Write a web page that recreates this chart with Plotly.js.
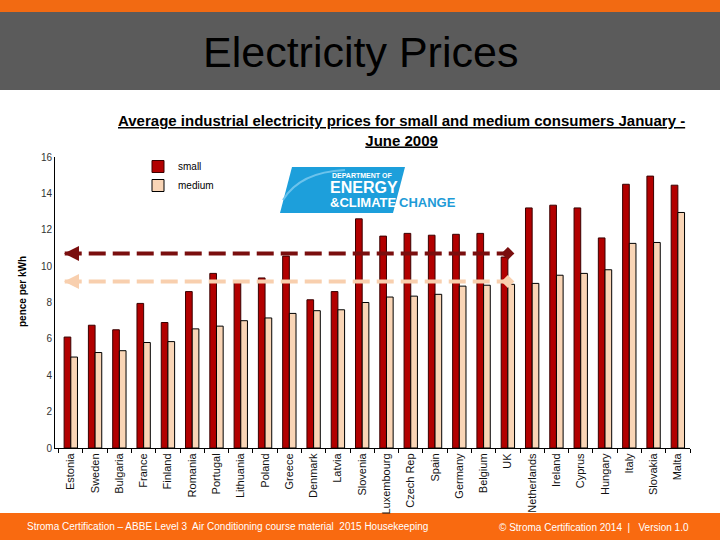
<!DOCTYPE html>
<html>
<head>
<meta charset="utf-8">
<script src="https://cdn.plot.ly/plotly-3.0.1.min.js"></script>
<style>html,body{margin:0;padding:0;background:#fff;}#chart{width:720px;height:540px;}</style>
</head>
<body>
<div id="chart"></div>
<script>
const countries = ["Estonia","Sweden","Bulgaria","France","Finland","Romania","Portugal","Lithuania","Poland","Greece","Denmark","Latvia","Slovenia","Luxembourg","Czech Rep","Spain","Germany","Belgium","UK","Netherlands","Ireland","Cyprus","Hungary","Italy","Slovakia","Malta"];
const smallPrices = [6.1,6.75,6.5,7.95,6.9,8.6,9.6,9.1,9.35,10.55,8.15,8.6,12.6,11.65,11.8,11.7,11.75,11.8,10.5,13.2,13.35,13.2,11.55,14.5,14.95,14.45];
const mediumPrices = [5.0,5.25,5.35,5.8,5.85,6.55,6.7,7.0,7.15,7.4,7.55,7.6,8.0,8.3,8.35,8.45,8.9,8.95,9.0,9.05,9.5,9.6,9.8,11.25,11.3,12.95];
const seriesNames = ["small","medium"];
const smallRef = 10.7;
const mediumRef = 9.15;
const refCountry = "UK";

const FONT = "Liberation Sans, Arial, sans-serif";
const refIdx = countries.indexOf(refCountry);

const traces = [
  {type:"bar", name:seriesNames[0], x:countries, y:smallPrices,
   marker:{color:"#B20000", line:{color:"#3a0000", width:1}}},
  {type:"bar", name:seriesNames[1], x:countries, y:mediumPrices,
   marker:{color:"#F9D5B6", line:{color:"#000", width:1}}},
  {type:"scatter", mode:"markers", x:[refCountry], y:[smallRef], showlegend:false, hoverinfo:"skip",
   marker:{symbol:"diamond", size:10, color:"#7A0E0E"}},
  {type:"scatter", mode:"markers", x:[refCountry], y:[mediumRef], showlegend:false, hoverinfo:"skip",
   marker:{symbol:"diamond", size:10, color:"#F8CFAE"}}
];

// paper coordinate helpers (plot area: x 55..690, y 157..448)
const L=55, R=690, T=157, B=448;
const px = v => (v-L)/(R-L);
const py = v => (B-v)/(B-T);

const shapes = [
  {type:"rect", xref:"paper", yref:"paper", x0:px(0), x1:px(720), y0:py(0), y1:py(12), fillcolor:"#F26A12", line:{width:0}, layer:"below"},
  {type:"rect", xref:"paper", yref:"paper", x0:px(0), x1:px(720), y0:py(12), y1:py(90), fillcolor:"#5B5B5B", line:{width:0}, layer:"below"},
  {type:"rect", xref:"paper", yref:"paper", x0:px(0), x1:px(720), y0:py(513), y1:py(540), fillcolor:"#F96A10", line:{width:0}, layer:"below"},
  {type:"path", xref:"paper", yref:"paper",
   path:`M ${px(280)} ${py(213)} L ${px(292)} ${py(167)} L ${px(405)} ${py(167)} L ${px(393)} ${py(213)} Z`,
   fillcolor:"#1D9FDB", line:{width:0}},
  {type:"path", xref:"paper", yref:"paper",
   path:`M ${px(283)} ${py(200)} Q ${px(300)} ${py(172)} ${px(345)} ${py(170)}`,
   line:{color:"#6CC3EC", width:2}},
  {type:"line", xref:"x", yref:"y", x0:-0.25, x1:refIdx - 0.1, y0:smallRef, y1:smallRef,
   line:{color:"#7A0E0E", width:4, dash:"17px,7px"}},
  {type:"line", xref:"x", yref:"y", x0:-0.25, x1:refIdx, y0:mediumRef, y1:mediumRef,
   line:{color:"#F8CFAE", width:4, dash:"17px,7px"}}
];

const annotations = [
  {text:"Electricity Prices", xref:"paper", yref:"paper", x:px(360), y:py(52), showarrow:false,
   font:{family:FONT, size:43, color:"#000"}, xanchor:"center", yanchor:"middle"},
  {text:"<b><u>Average industrial electricity prices for small and medium consumers January -</u></b><br><b><u>June 2009</u></b>",
   xref:"paper", yref:"paper", x:px(401), y:py(130), showarrow:false, align:"center",
   font:{family:FONT, size:15, color:"#000"}, xanchor:"center", yanchor:"middle"},
  {text:"<b>pence per kWh</b>", xref:"paper", yref:"paper", x:px(22), y:py(292), textangle:-90, showarrow:false,
   font:{family:FONT, size:10, color:"#000"}, xanchor:"center", yanchor:"middle"},
  {text:"<b>DEPARTMENT OF</b>", xref:"paper", yref:"paper", x:px(330), y:py(175), showarrow:false,
   font:{family:FONT, size:7, color:"#fff"}, xanchor:"left", yanchor:"middle"},
  {text:"<b>ENERGY</b>", xref:"paper", yref:"paper", x:px(328), y:py(187), showarrow:false,
   font:{family:FONT, size:16, color:"#fff"}, xanchor:"left", yanchor:"middle"},
  {text:"<b>&amp;CLIMATE</b>", xref:"paper", yref:"paper", x:px(328), y:py(202), showarrow:false,
   font:{family:FONT, size:13, color:"#fff"}, xanchor:"left", yanchor:"middle"},
  {text:"<b>CHANGE</b>", xref:"paper", yref:"paper", x:px(397), y:py(202), showarrow:false,
   font:{family:FONT, size:13, color:"#1E9BD7"}, xanchor:"left", yanchor:"middle"},
  {text:"", x:-0.28, y:smallRef, xref:"x", yref:"y", ax:16, ay:0, showarrow:true,
   arrowhead:2, arrowsize:1, arrowwidth:3, arrowcolor:"#7A0E0E"},
  {text:"", x:-0.28, y:mediumRef, xref:"x", yref:"y", ax:16, ay:0, showarrow:true,
   arrowhead:2, arrowsize:1, arrowwidth:3, arrowcolor:"#F8CFAE"},
  {text:"Stroma Certification – ABBE Level 3  Air Conditioning course material  2015 Housekeeping",
   xref:"paper", yref:"paper", x:px(25), y:py(526), showarrow:false, xanchor:"left", yanchor:"middle",
   font:{family:FONT, size:10, color:"#fff"}},
  {text:"© Stroma Certification 2014  |   Version 1.0",
   xref:"paper", yref:"paper", x:px(497), y:py(527), showarrow:false, xanchor:"left", yanchor:"middle",
   font:{family:FONT, size:10, color:"#fff"}}
];

const layout = {
  width:720, height:540,
  margin:{l:L, r:720-R, t:T, b:540-B, pad:0},
  paper_bgcolor:"#fff", plot_bgcolor:"#fff",
  barmode:"group", bargap:0.45, bargroupgap:0,
  showlegend:true,
  legend:{x:px(138), y:py(152), xanchor:"left", yanchor:"top", bgcolor:"rgba(0,0,0,0)",
    font:{family:FONT, size:10, color:"#000"}, itemwidth:30, tracegroupgap:0},
  xaxis:{type:"category", showline:true, linecolor:"#000", linewidth:1, ticks:"outside", ticklen:4,
    tickcolor:"#000", tickson:"boundaries", tickangle:-90, showgrid:false, zeroline:false,
    tickfont:{family:FONT, size:11, color:"#111"}},
  yaxis:{range:[0,16], dtick:2, showline:true, linecolor:"#000", linewidth:1, ticks:"", showgrid:false,
    zeroline:false, tickfont:{family:FONT, size:10, color:"#333"}},
  shapes:shapes, annotations:annotations,
  font:{family:FONT}
};

Plotly.newPlot("chart", traces, layout, {displayModeBar:false, staticPlot:true});
</script>
</body>
</html>
